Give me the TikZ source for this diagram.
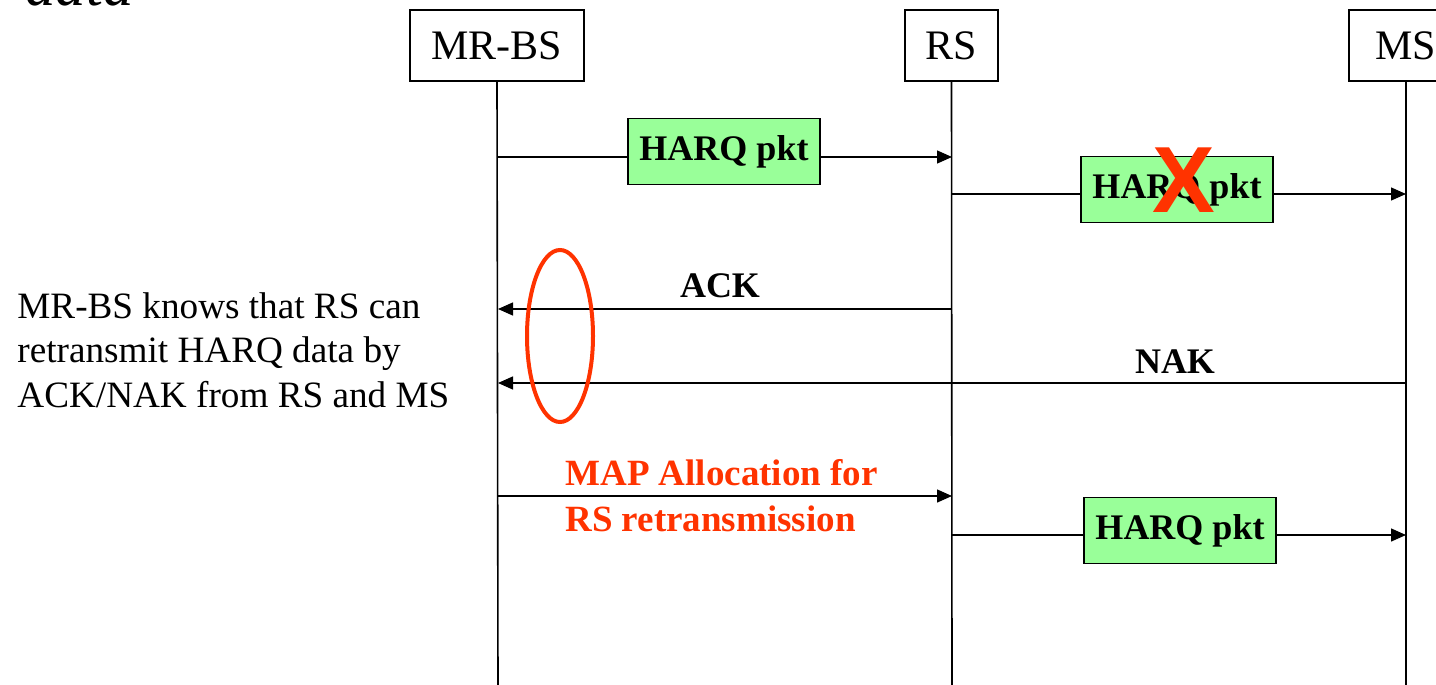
\documentclass[tikz,border=0pt]{standalone}
\usepackage{fontspec}
\setmainfont{Liberation Serif}
\newfontfamily\crossfont{Liberation Sans}
\usetikzlibrary{arrows.meta,positioning}
\definecolor{pktgreen}{HTML}{99FF99}
\definecolor{markred}{HTML}{FF3300}

\begin{document}
\begin{tikzpicture}[x=0.5pt,y=-0.5pt,
		entity/.style={draw, line width=0.9pt, minimum height=35.5pt, inner sep=0pt, font=\fontsize{21}{25}\selectfont},
		pkt/.style={draw, fill=pktgreen, line width=0.9pt, minimum width=96pt, minimum height=33pt, inner sep=0pt, font=\bfseries\fontsize{18}{22}\selectfont},
		msg/.style={-{Triangle[length=7.5pt,width=6.5pt]}, line width=0.7pt},
		lbl/.style={font=\bfseries\fontsize{18}{22}\selectfont, inner sep=0pt}]
			\useasboundingbox (0,0) rectangle (1436,685);
			%title remnant
			\node[anchor=base west, inner sep=0pt, font=\itshape\fontsize{30.5}{34}\selectfont] (title) at (25,5) {data};
			%entities and lifelines
			\node[entity, minimum width=87pt] (bs) at (497,45.5) {MR-BS};
			\node[entity, minimum width=46.5pt] (rs) at (951.5,45.5) {RS};
			\node[entity, minimum width=57pt] (ms) at (1406,45.5) {MS};
			\coordinate (bsend) at (498,690);
			\coordinate (rsend) at (952,690);
			\coordinate (msend) at (1406,690);
			\draw[line width=0.8pt] (bs.south) -- (bsend);
			\draw[line width=0.8pt] (rs.south) -- (rsend);
			\draw[line width=0.8pt] (ms.south) -- (msend);
			%points on the lifelines
			\coordinate (bs1) at (498,157); \coordinate (rs1) at (952,157);
			\coordinate (rs2) at (952,194); \coordinate (ms2) at (1406,194);
			\coordinate (rs3) at (952,309); \coordinate (bs3) at (498,309);
			\coordinate (ms4) at (1406,383); \coordinate (bs4) at (498,383);
			\coordinate (bs5) at (498,496); \coordinate (rs5) at (952,496);
			\coordinate (rs6) at (952,535); \coordinate (ms6) at (1406,535);
			%messages
			\draw[msg] (bs1) -- (rs1);
			\node[pkt] (pkt1) at (724,151.5) {HARQ pkt};
			\draw[msg] (rs2) -- (ms2);
			\node[pkt] (pkt2) at (1177,189.5) {HARQ pkt};
			\node[text=markred, inner sep=0pt, font=\crossfont\bfseries\fontsize{47}{50}\selectfont] (lost) at (1184,180) {X};
			\draw[msg] (rs3) -- (bs3);
			\node[lbl] (ack) at (720,286) {ACK};
			\draw[msg] (ms4) -- (bs4);
			\node[lbl] (nak) at (1175,362) {NAK};
			\draw[msg] (bs5) -- (rs5);
			\node[lbl, text=markred, anchor=west, align=left, font=\bfseries\fontsize{18.5}{23}\selectfont] (map) at (565,496) {MAP Allocation for\\RS retransmission};
			\draw[msg] (rs6) -- (ms6);
			\node[pkt] (pkt3) at (1180,530.5) {HARQ pkt};
			%ack/nak mark
			\draw[markred, line width=2pt] (560,336) ellipse [x radius=33, y radius=86];
			\node[anchor=west, align=left, inner sep=0pt, font=\fontsize{18.6}{22.3}\selectfont] (note) at (17,350) {MR-BS knows that RS can\\retransmit HARQ data by\\ACK/NAK from RS and MS};
\end{tikzpicture}
\end{document}
